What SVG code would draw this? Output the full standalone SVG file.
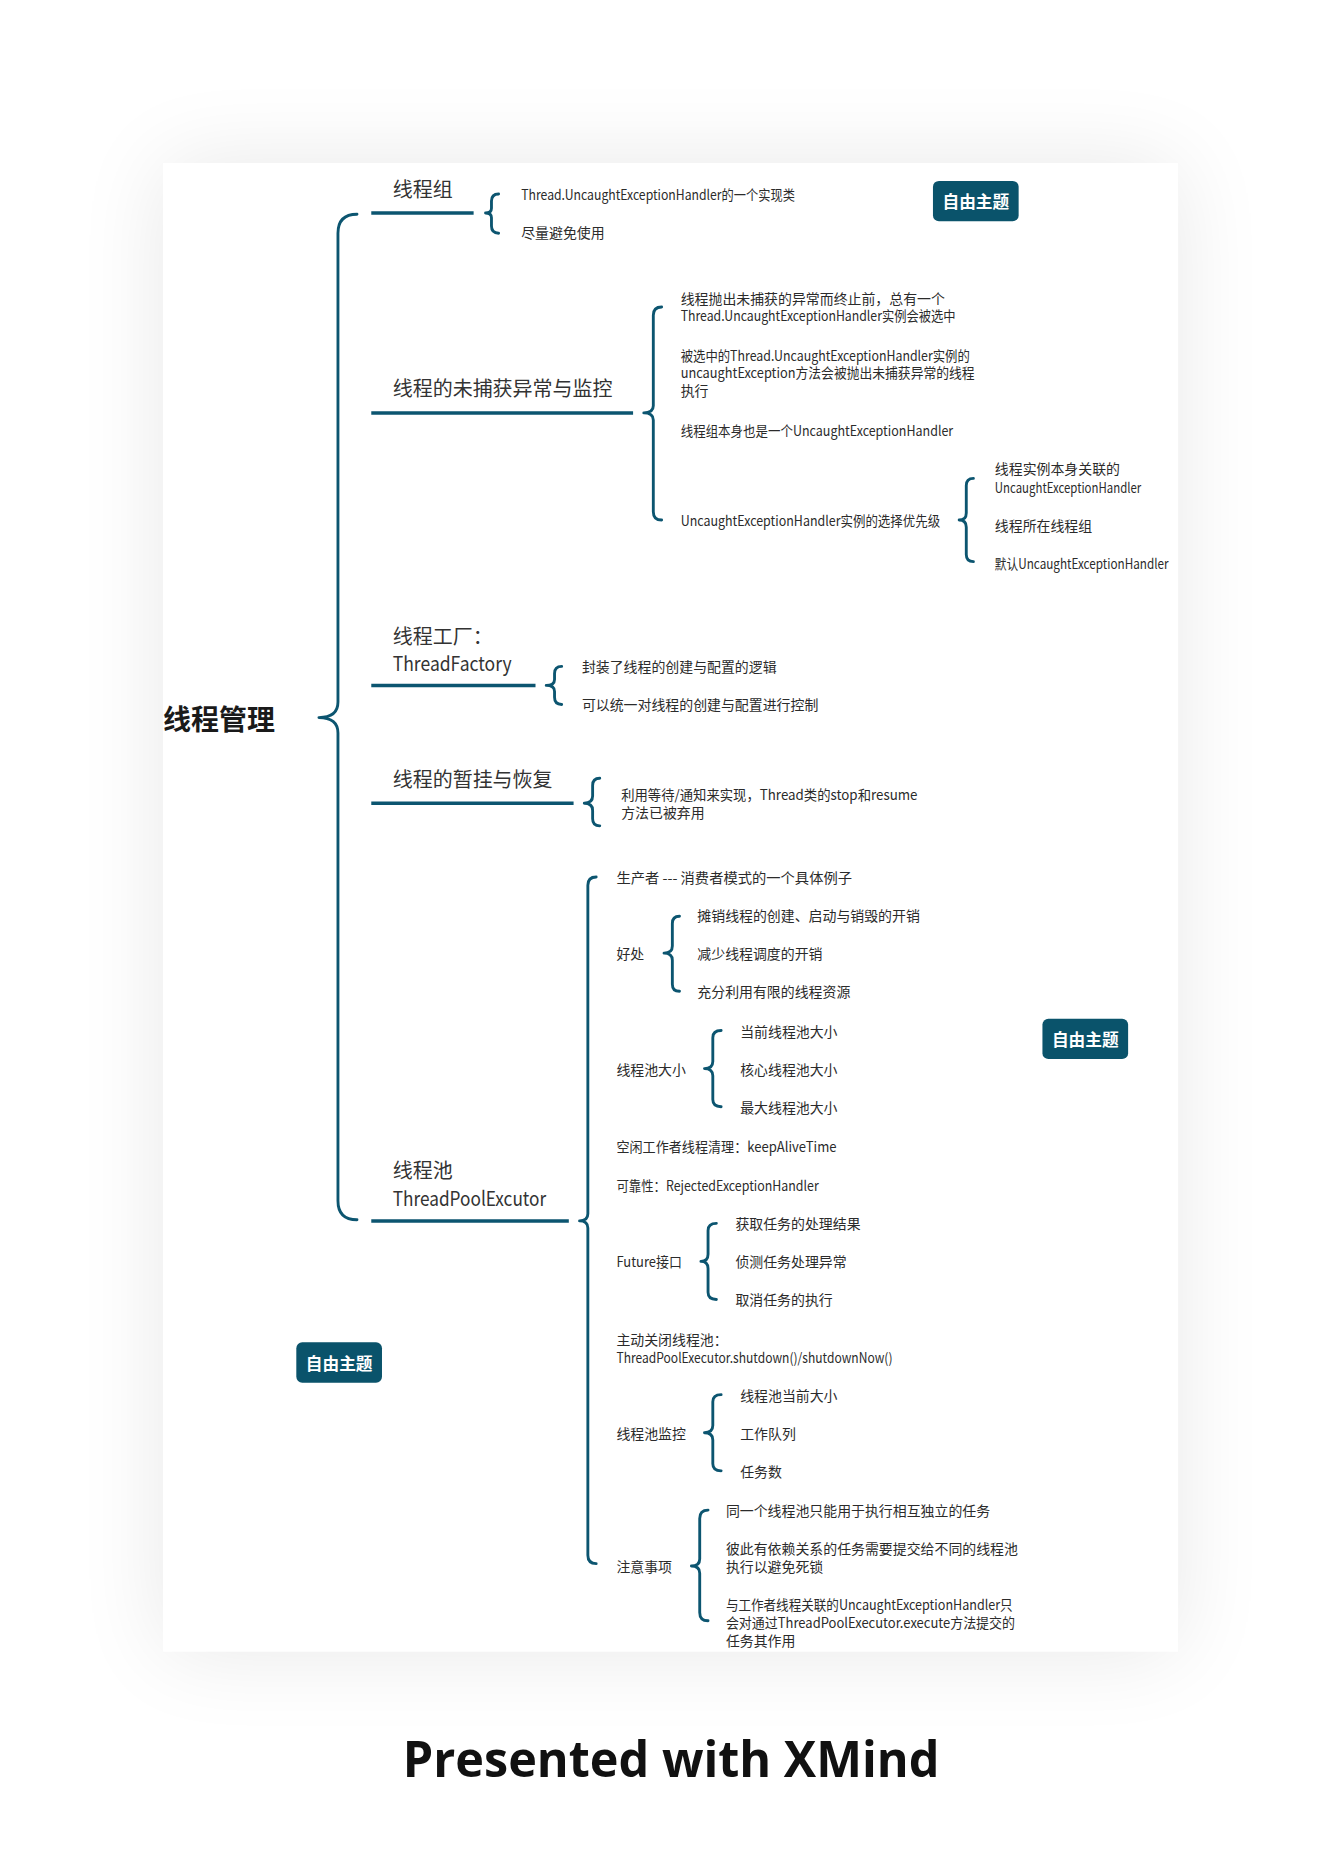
<svg xmlns="http://www.w3.org/2000/svg" width="1343" height="1868" viewBox="0 0 1343 1868">
<defs>
<filter id="sh" x="-30%" y="-30%" width="160%" height="160%"><feGaussianBlur stdDeviation="38"/></filter>
<style>
.t{font-family:"Noto Sans CJK SC","Noto Sans",sans-serif;font-size:11.7px;fill:#2b2b2b;dominant-baseline:central}
.h{font-size:16.8px;fill:#333}
.r{font-size:23.5px;font-weight:bold;fill:#1a1a1a}
.bx{fill:#0a536b}
.bt{font-family:"Noto Sans CJK SC","Noto Sans",sans-serif;font-size:14px;font-weight:bold;fill:#fff;text-anchor:middle;dominant-baseline:central}
.ul{stroke:#0c5570;stroke-width:3;fill:none}
.br{stroke:#0c5570;stroke-width:2.4;fill:none;stroke-linecap:round;stroke-linejoin:round}
.pw{font-family:"Open Sans","Noto Sans",sans-serif;font-weight:bold;font-size:42px;fill:#111;text-anchor:middle}
</style>
</defs>
<rect width="1343" height="1868" fill="#fff"/>
<g transform="scale(1.19)">
<rect x="137" y="137" width="853" height="1251" fill="#000" opacity="0.09" filter="url(#sh)"/>
<rect x="137" y="137" width="853" height="1251" fill="#fff"/>

<g id="connectors">
<path class="br" d="M300,180 Q284,180 284,196 L284,590 Q284,603 268,603 Q284,603 284,616 L284,1009 Q284,1025 300,1025"/>
<path class="br" d="M419,163 Q413,163 413,169 L413,175 Q413,179 408,179 Q413,179 413,183 L413,190 Q413,196 419,196"/>
<path class="br" d="M556,258 Q549,258 549,265 L549,341 Q549,347 541,347 Q549,347 549,353 L549,430 Q549,437 556,437"/>
<path class="br" d="M818,402 Q812,402 812,408 L812,431 Q812,437 806,437 Q812,437 812,443 L812,466 Q812,472 818,472"/>
<path class="br" d="M472,560 Q466,560 466,566 L466,571 Q466,576 459,576 Q466,576 466,581 L466,586 Q466,592 472,592"/>
<path class="br" d="M504,654 Q498,654 498,660 L498,669 Q498,675 491,675 Q498,675 498,681 L498,688 Q498,694 504,694"/>
<path class="br" d="M501,737 Q494,737 494,744 L494,1020 Q494,1026 487,1026 Q494,1026 494,1032 L494,1307 Q494,1314 501,1314"/>
<path class="br" d="M571,770 Q565,770 565,776 L565,795 Q565,801 558,801 Q565,801 565,807 L565,827 Q565,833 571,833"/>
<path class="br" d="M606,866 Q599,866 599,872 L599,892 Q599,898 592,898 Q599,898 599,904 L599,924 Q599,930 606,930"/>
<path class="br" d="M602,1028 Q595,1028 595,1034 L595,1054 Q595,1060 589,1060 Q595,1060 595,1066 L595,1086 Q595,1092 602,1092"/>
<path class="br" d="M606,1172 Q599,1172 599,1178 L599,1198 Q599,1204 592,1204 Q599,1204 599,1210 L599,1230 Q599,1236 606,1236"/>
<path class="br" d="M595,1269 Q588,1269 588,1276 L588,1310 Q588,1316 581,1316 Q588,1316 588,1322 L588,1355 Q588,1362 595,1362"/>
</g>

<g id="root"><text class="t r" x="137" y="603">线程管理</text></g>

<g id="n-group">
<text class="t h" x="330" y="158">线程组</text>
<line class="ul" x1="312" y1="179" x2="398" y2="179"/>
</g>
<g id="n-group-1"><text class="t" x="438" y="163" textLength="230" lengthAdjust="spacingAndGlyphs">Thread.UncaughtExceptionHandler的一个实现类</text></g>
<g id="n-group-2"><text class="t" x="438" y="195">尽量避免使用</text></g>

<g id="n-uncaught">
<text class="t h" x="330" y="326">线程的未捕获异常与监控</text>
<line class="ul" x1="312" y1="347" x2="532" y2="347"/>
</g>
<g id="n-uc-1">
<text class="t" x="572" y="250">线程抛出未捕获的异常而终止前，总有一个</text>
<text class="t" x="572" y="265" textLength="231" lengthAdjust="spacingAndGlyphs">Thread.UncaughtExceptionHandler实例会被选中</text>
</g>
<g id="n-uc-2">
<text class="t" x="572" y="298" textLength="243" lengthAdjust="spacingAndGlyphs">被选中的Thread.UncaughtExceptionHandler实例的</text>
<text class="t" x="572" y="313" textLength="247" lengthAdjust="spacingAndGlyphs">uncaughtException方法会被抛出未捕获异常的线程</text>
<text class="t" x="572" y="328">执行</text>
</g>
<g id="n-uc-3"><text class="t" x="572" y="361" textLength="229" lengthAdjust="spacingAndGlyphs">线程组本身也是一个UncaughtExceptionHandler</text></g>
<g id="n-uc-4"><text class="t" x="572" y="437" textLength="218" lengthAdjust="spacingAndGlyphs">UncaughtExceptionHandler实例的选择优先级</text></g>
<g id="n-uc-4-1">
<text class="t" x="836" y="393">线程实例本身关联的</text>
<text class="t" x="836" y="409" textLength="123" lengthAdjust="spacingAndGlyphs">UncaughtExceptionHandler</text>
</g>
<g id="n-uc-4-2"><text class="t" x="836" y="441">线程所在线程组</text></g>
<g id="n-uc-4-3"><text class="t" x="836" y="473" textLength="146" lengthAdjust="spacingAndGlyphs">默认UncaughtExceptionHandler</text></g>

<g id="n-factory">
<text class="t h" x="330" y="534">线程工厂：</text>
<text class="t h" x="330" y="557" textLength="100" lengthAdjust="spacingAndGlyphs">ThreadFactory</text>
<line class="ul" x1="312" y1="576" x2="450" y2="576"/>
</g>
<g id="n-factory-1"><text class="t" x="489" y="560">封装了线程的创建与配置的逻辑</text></g>
<g id="n-factory-2"><text class="t" x="489" y="592">可以统一对线程的创建与配置进行控制</text></g>

<g id="n-suspend">
<text class="t h" x="330" y="654">线程的暂挂与恢复</text>
<line class="ul" x1="312" y1="675" x2="482" y2="675"/>
</g>
<g id="n-suspend-1">
<text class="t" x="522" y="667" textLength="249" lengthAdjust="spacingAndGlyphs">利用等待/通知来实现，Thread类的stop和resume</text>
<text class="t" x="522" y="682">方法已被弃用</text>
</g>

<g id="n-pool">
<text class="t h" x="330" y="983">线程池</text>
<text class="t h" x="330" y="1006" textLength="129" lengthAdjust="spacingAndGlyphs">ThreadPoolExcutor</text>
<line class="ul" x1="312" y1="1026" x2="478" y2="1026"/>
</g>
<g id="n-pool-1"><text class="t" x="518" y="737" textLength="198" lengthAdjust="spacingAndGlyphs">生产者 --- 消费者模式的一个具体例子</text></g>
<g id="n-pool-2"><text class="t" x="518" y="801">好处</text></g>
<g id="n-pool-2-1"><text class="t" x="586" y="769">摊销线程的创建、启动与销毁的开销</text></g>
<g id="n-pool-2-2"><text class="t" x="586" y="801">减少线程调度的开销</text></g>
<g id="n-pool-2-3"><text class="t" x="586" y="833">充分利用有限的线程资源</text></g>
<g id="n-pool-3"><text class="t" x="518" y="898">线程池大小</text></g>
<g id="n-pool-3-1"><text class="t" x="622" y="866">当前线程池大小</text></g>
<g id="n-pool-3-2"><text class="t" x="622" y="898">核心线程池大小</text></g>
<g id="n-pool-3-3"><text class="t" x="622" y="930">最大线程池大小</text></g>
<g id="n-pool-4"><text class="t" x="518" y="963" textLength="185" lengthAdjust="spacingAndGlyphs">空闲工作者线程清理：keepAliveTime</text></g>
<g id="n-pool-5"><text class="t" x="518" y="996" textLength="170" lengthAdjust="spacingAndGlyphs">可靠性：RejectedExceptionHandler</text></g>
<g id="n-pool-6"><text class="t" x="518" y="1060" textLength="55" lengthAdjust="spacingAndGlyphs">Future接口</text></g>
<g id="n-pool-6-1"><text class="t" x="618" y="1028">获取任务的处理结果</text></g>
<g id="n-pool-6-2"><text class="t" x="618" y="1060">侦测任务处理异常</text></g>
<g id="n-pool-6-3"><text class="t" x="618" y="1092">取消任务的执行</text></g>
<g id="n-pool-7">
<text class="t" x="518" y="1125">主动关闭线程池：</text>
<text class="t" x="518" y="1140" textLength="232" lengthAdjust="spacingAndGlyphs">ThreadPoolExecutor.shutdown()/shutdownNow()</text>
</g>
<g id="n-pool-8"><text class="t" x="518" y="1204">线程池监控</text></g>
<g id="n-pool-8-1"><text class="t" x="622" y="1172">线程池当前大小</text></g>
<g id="n-pool-8-2"><text class="t" x="622" y="1204">工作队列</text></g>
<g id="n-pool-8-3"><text class="t" x="622" y="1236">任务数</text></g>
<g id="n-pool-9"><text class="t" x="518" y="1316">注意事项</text></g>
<g id="n-pool-9-1"><text class="t" x="610" y="1269">同一个线程池只能用于执行相互独立的任务</text></g>
<g id="n-pool-9-2">
<text class="t" x="610" y="1301">彼此有依赖关系的任务需要提交给不同的线程池</text>
<text class="t" x="610" y="1316">执行以避免死锁</text>
</g>
<g id="n-pool-9-3">
<text class="t" x="610" y="1348" textLength="241" lengthAdjust="spacingAndGlyphs">与工作者线程关联的UncaughtExceptionHandler只</text>
<text class="t" x="610" y="1363" textLength="243" lengthAdjust="spacingAndGlyphs">会对通过ThreadPoolExecutor.execute方法提交的</text>
<text class="t" x="610" y="1378">任务其作用</text>
</g>

<g id="free-1"><rect class="bx" x="784" y="152" width="72" height="34" rx="5"/><text class="bt" x="820" y="169">自由主题</text></g>
<g id="free-2"><rect class="bx" x="876" y="856" width="72" height="34" rx="5"/><text class="bt" x="912" y="873">自由主题</text></g>
<g id="free-3"><rect class="bx" x="249" y="1128" width="72" height="34" rx="5"/><text class="bt" x="285" y="1145">自由主题</text></g>

<g id="footer"><text class="pw" x="564" y="1493" textLength="451" lengthAdjust="spacingAndGlyphs">Presented with XMind</text></g>
</g>
</svg>
